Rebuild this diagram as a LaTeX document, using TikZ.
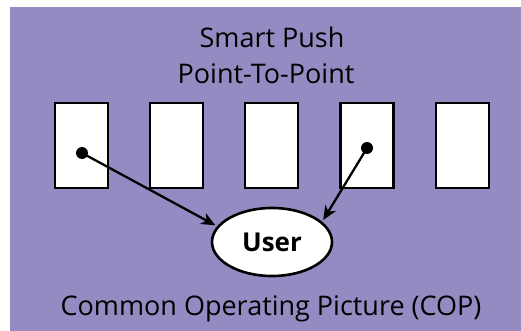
\documentclass[tikz,border=0pt]{standalone}
\usepackage{fontspec}
\setmainfont{Open Sans}
\usetikzlibrary{arrows.meta,shapes.geometric}
\definecolor{bgpurple}{RGB}{150,138,194}
\tikzset{
  panel/.style={rectangle, draw=black, fill=white, line width=2.6pt, minimum width=53pt, minimum height=85pt, inner sep=0pt},
  dotmark/.style={circle, fill=black, minimum size=12pt, inner sep=0pt},
  usernode/.style={ellipse, draw=black, fill=white, line width=2.6pt, minimum width=120pt, minimum height=68pt, inner sep=0pt, font=\fontsize{26}{30}\selectfont\bfseries},
  title/.style={font=\fontsize{27}{32}\selectfont, inner sep=0pt, anchor=base},
  link/.style={line width=2.3pt, shorten >=2pt, -{Stealth[length=14pt, width=12pt, inset=4pt]}},
}
\begin{document}
\begin{tikzpicture}[x=1pt, y=-1pt]
\useasboundingbox (0,0) rectangle (521,331);
\fill[bgpurple] (10,7) rectangle (521,331);
\node[title] (t1) at (272,48) {Smart Push};
\node[title] (t2) at (266,84) {Point-To-Point};
\node[title] (t3) at (271,315) {Common Operating Picture (COP)};
\node[panel] (b1) at (81.5,145.5) {};
\node[panel] (b2) at (176.5,145.5) {};
\node[panel] (b3) at (271.5,145.5) {};
\node[panel] (b4) at (367,145.5) {};
\node[panel] (b5) at (462.5,145.5) {};
\node[dotmark] (d1) at (82,153) {};
\node[dotmark] (d4) at (367,148) {};
\node[usernode] (u) at (272,242) {User};
\draw[link] (d1.center) -- (u.164);
\draw[link] (d4.center) -- (u.22);
\end{tikzpicture}
\end{document}
